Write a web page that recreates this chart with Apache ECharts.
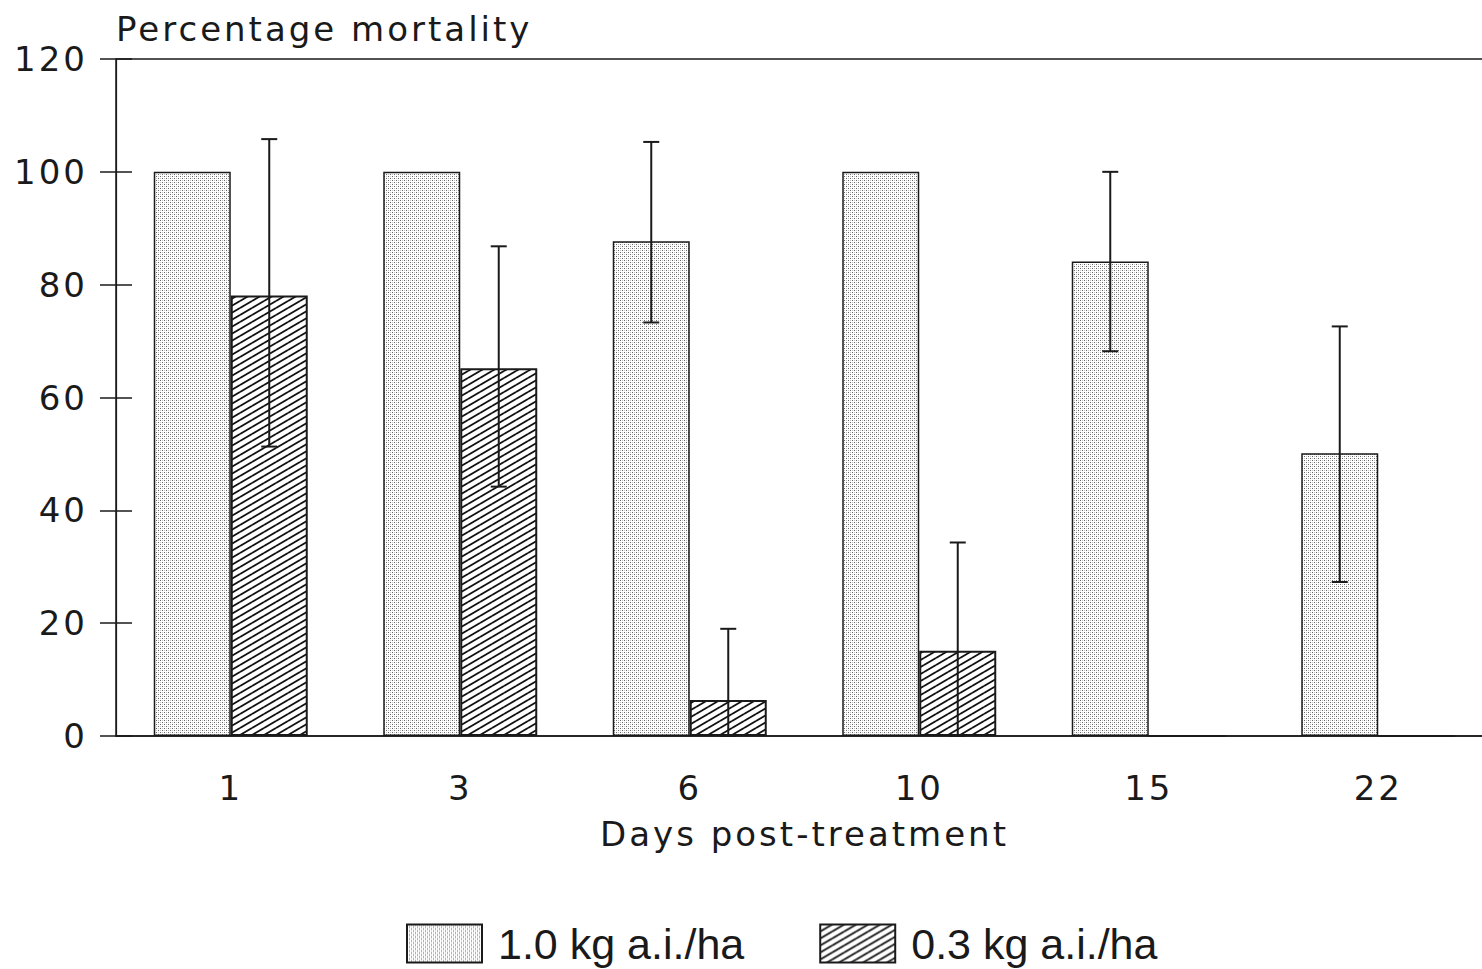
<!DOCTYPE html>
<html>
<head>
<meta charset="utf-8">
<script src="https://cdn.jsdelivr.net/npm/echarts@6/dist/echarts.min.js"></script>
<style>
  html, body { margin: 0; padding: 0; background: #ffffff; }
  #chart { width: 1482px; height: 969px; }
  /* tracked lettering for axis text; legend text stays untracked */
  #chart text { letter-spacing: 3px; }
  #chart text[style*="Liberation"] { letter-spacing: 0; }
</style>
</head>
<body>
<div id="chart"></div>
<script>
// Days post-treatment (categories)
const days = ['1', '3', '6', '10', '15', '22'];

// Mean percentage mortality per dose
const highDose = [100, 100, 87.7, 100, 84.1, 50.1];   // 1.0 kg a.i./ha
const lowDose = [78.1, 65.2, 6.4, 15.1, 0, 0];        // 0.3 kg a.i./ha

// Error bar limits (null = no bar drawn)
const highErrLow = [null, null, 73.3, null, 68.2, 27.3];
const highErrHigh = [null, null, 105.3, null, 100, 72.6];
const lowErrLow = [51.3, 44.2, 0, 0, null, null];
const lowErrHigh = [105.8, 86.8, 19.0, 34.3, null, null];

// Y axis scale
const yMin = 0, yMax = 120, yStep = 20;

const seriesNames = ['1.0 kg a.i./ha', '0.3 kg a.i./ha'];

const INK = '#1a1a1a';
const BAR_FRAC = 0.3355;

// Fine stipple tile
function stipplePattern() {
  const c = document.createElement('canvas');
  c.width = 4; c.height = 4;
  const ctx = c.getContext('2d');
  ctx.fillStyle = '#ffffff';
  ctx.fillRect(0, 0, 4, 4);
  ctx.fillStyle = '#666666';
  ctx.fillRect(0, 0, 1, 1);
  ctx.fillRect(2, 2, 1, 1);
  ctx.fillStyle = '#c4c4c4';
  ctx.fillRect(2, 0, 1, 1);
  ctx.fillRect(0, 2, 1, 1);
  return c;
}

// Diagonal hatch tile ("/" direction)
function hatchPattern() {
  const W = 12, H = 7;
  const c = document.createElement('canvas');
  c.width = W; c.height = H;
  const ctx = c.getContext('2d');
  ctx.fillStyle = '#ffffff';
  ctx.fillRect(0, 0, W, H);
  ctx.strokeStyle = '#111111';
  ctx.lineWidth = 1.8;
  for (let dx = -W; dx <= W; dx += W) {
    for (let dy = -H; dy <= H; dy += H) {
      ctx.beginPath();
      ctx.moveTo(dx, H + dy);
      ctx.lineTo(W + dx, dy);
      ctx.stroke();
    }
  }
  return c;
}

function errorData(lo, hi) {
  const out = [];
  for (let i = 0; i < days.length; i++) {
    if (lo[i] != null && hi[i] != null) out.push([i, lo[i], hi[i]]);
  }
  return out;
}

function errorSeries(lo, hi, side) {
  return {
    type: 'custom',
    name: 'err' + side,
    silent: true,
    z: 5,
    data: errorData(lo, hi),
    encode: { x: 0, y: [1, 2] },
    renderItem: function (params, api) {
      const ci = api.value(0);
      const pLo = api.coord([ci, api.value(1)]);
      const pHi = api.coord([ci, api.value(2)]);
      const band = api.size([1, 0])[0];
      const x = pLo[0] + side * band * BAR_FRAC / 2;
      const cap = 8;
      const st = { stroke: INK, lineWidth: 2 };
      return {
        type: 'group',
        children: [
          { type: 'line', shape: { x1: x, y1: pLo[1], x2: x, y2: pHi[1] }, style: st },
          { type: 'line', shape: { x1: x - cap, y1: pHi[1], x2: x + cap, y2: pHi[1] }, style: st },
          { type: 'line', shape: { x1: x - cap, y1: pLo[1], x2: x + cap, y2: pLo[1] }, style: st }
        ]
      };
    }
  };
}

const chart = echarts.init(document.getElementById('chart'), null, { renderer: 'svg' });

const axisFont = { fontFamily: 'DejaVu Sans', fontSize: 34, color: INK };

chart.setOption({
  animation: false,
  backgroundColor: '#ffffff',
  grid: {
    left: 116, width: 1377, top: 59, bottom: 233,
    outerBoundsMode: 'none',
    show: true, borderColor: INK, borderWidth: 1.5, backgroundColor: 'transparent'
  },
  legend: {
    data: seriesNames,
    left: 406, top: 922,
    padding: 0,
    itemWidth: 75, itemHeight: 38, itemGap: 75,
    icon: 'rect',
    textStyle: { fontFamily: 'Liberation Sans', fontSize: 43, color: INK, padding: [0, 0, 0, 11] }
  },
  xAxis: {
    type: 'category',
    data: days,
    name: 'Days post-treatment',
    nameLocation: 'middle',
    nameGap: 81,
    nameTextStyle: axisFont,
    axisLine: { lineStyle: { color: INK, width: 1.5 } },
    axisTick: { alignWithLabel: true, length: 15, lineStyle: { color: INK, width: 1.5 } },
    axisLabel: Object.assign({ margin: 35 }, axisFont),
    splitLine: { show: false }
  },
  yAxis: [
    {
      type: 'value',
      min: yMin, max: yMax, interval: yStep,
      name: 'Percentage mortality',
      nameLocation: 'end',
      nameGap: 30,
      nameTextStyle: Object.assign({ align: 'left', verticalAlign: 'middle' }, axisFont),
      axisLine: { show: true, lineStyle: { color: INK, width: 1.2 } },
      axisTick: { show: true, length: 16, lineStyle: { color: INK, width: 1.5 } },
      axisLabel: Object.assign({ margin: 28 }, axisFont),
      splitLine: { show: false }
    },
    {
      type: 'value',
      min: yMin, max: yMax, interval: yStep,
      position: 'left',
      axisLine: { show: false },
      axisTick: { show: true, inside: true, length: 16, lineStyle: { color: INK, width: 1.5 } },
      axisLabel: { show: false },
      splitLine: { show: false }
    }
  ],
  series: [
    {
      type: 'bar',
      name: seriesNames[0],
      data: highDose,
      barWidth: (BAR_FRAC * 100) + '%',
      barGap: '0%',
      itemStyle: {
        color: { image: stipplePattern(), repeat: 'repeat' },
        borderColor: INK, borderWidth: 1.5
      }
    },
    {
      type: 'bar',
      name: seriesNames[1],
      data: lowDose,
      barWidth: (BAR_FRAC * 100) + '%',
      barGap: '0%',
      itemStyle: {
        color: { image: hatchPattern(), repeat: 'repeat' },
        borderColor: INK, borderWidth: 2
      }
    },
    errorSeries(highErrLow, highErrHigh, -1),
    errorSeries(lowErrLow, lowErrHigh, 1)
  ]
});
</script>
</body>
</html>
